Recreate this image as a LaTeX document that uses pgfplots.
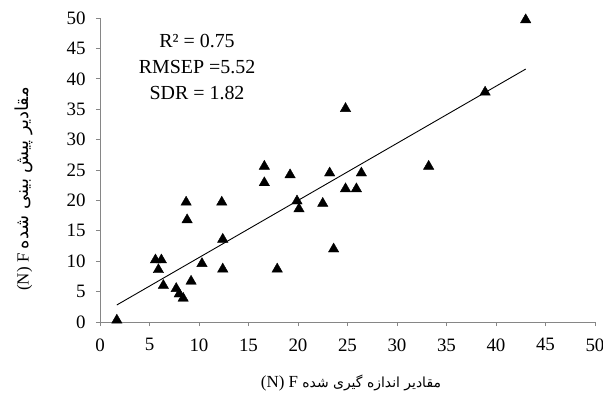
\documentclass[border=0pt]{standalone}
\usepackage{fontspec}
\setmainfont{Liberation Serif}
\newfontfamily\persian[Script=Arabic]{DejaVu Sans}
\TeXXeTstate=1
\usepackage{pgfplots}
\pgfplotsset{compat=1.18}
\usetikzlibrary{calc}
\definecolor{axgray}{RGB}{134,134,134}

\begin{document}
\begin{tikzpicture}
\begin{axis}[
  scale only axis, width=495bp, height=304bp,
  xmin=0, xmax=50, ymin=0, ymax=50,
  xtick={0,5,...,50}, ytick={0,5,...,50},
  axis x line=bottom, axis y line=left,
  axis line style={axgray, line width=0.8bp, -},
  tick align=outside, major tick length=4bp,
  tick style={axgray, line width=0.8bp},
  ticklabel style={font=\fontsize{19}{21}\selectfont, text=black},
  xticklabel style={yshift=-9bp},
  yticklabel style={xshift=-7bp},
  /pgf/number format/assume math mode=true,
  clip=false,
]
\coordinate (o) at (rel axis cs:0,0);
% measured vs predicted
\addplot[only marks, mark=triangle*, mark size=6bp, black] coordinates {
  (1.7,0.3) (5.6,10.2) (6.2,10.2) (5.9,8.6) (6.4,6.0) (7.7,5.5) (8.0,4.6)
  (8.4,3.9) (8.7,19.7) (8.8,16.8) (9.2,6.7) (10.3,9.6) (12.3,19.7) (12.4,13.6)
  (12.4,8.7) (16.6,25.6) (16.6,22.9) (17.9,8.7) (19.2,24.2) (19.9,19.9)
  (20.1,18.6) (22.5,19.5) (23.2,24.5) (23.6,12.0) (24.8,35.1) (24.8,21.9)
  (25.9,21.9) (26.4,24.5) (33.2,25.6) (38.9,37.8) (43.0,49.7)
};
% trend line
\addplot[black, line width=0.9bp] coordinates {(1.7,2.8) (43.0,41.6)};
\node[align=center, font=\fontsize{20}{26}\selectfont] at (axis cs:9.8,41.9)
  {R² = 0.75\\RMSEP =5.52\\SDR = 1.82};
\end{axis}
\node[font=\fontsize{17}{20}\selectfont] at ($(o)+(251bp,-61bp)$)
  {(N) F {\persian\fontsize{14}{18}\selectfont\beginR مقادیر اندازه گیری شده\endR}};
\node[rotate=90, font=\fontsize{17}{20}\selectfont] at ($(o)+(-76bp,133bp)$)
  {(N) F {\persian\fontsize{18}{22}\selectfont\beginR مقادیر پیش بینی شده\endR}};
\pgfresetboundingbox
\path (o) ++(-100bp,-84bp) rectangle ++(603bp,406bp);
\end{tikzpicture}
\end{document}
